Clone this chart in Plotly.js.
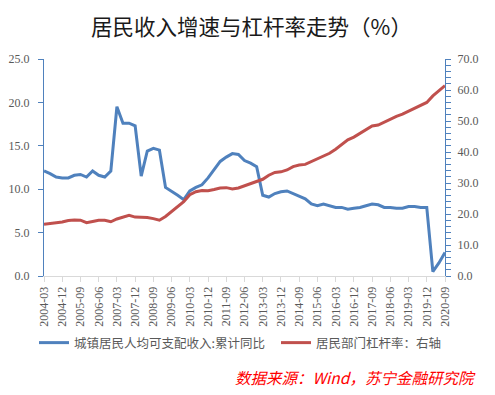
<!DOCTYPE html>
<html>
<head>
<meta charset="utf-8">
<script src="https://cdn.plot.ly/plotly-3.0.1.min.js"></script>
<style>html,body{margin:0;padding:0;background:#fff;}#chart{width:495px;height:395px;}</style>
</head>
<body>
<div id="chart"></div>
<script>
// Quarterly categories 2004-03 .. 2020-09
const quarters = [
 "2004-03","2004-06","2004-09","2004-12","2005-03","2005-06","2005-09","2005-12",
 "2006-03","2006-06","2006-09","2006-12","2007-03","2007-06","2007-09","2007-12",
 "2008-03","2008-06","2008-09","2008-12","2009-03","2009-06","2009-09","2009-12",
 "2010-03","2010-06","2010-09","2010-12","2011-03","2011-06","2011-09","2011-12",
 "2012-03","2012-06","2012-09","2012-12","2013-03","2013-06","2013-09","2013-12",
 "2014-03","2014-06","2014-09","2014-12","2015-03","2015-06","2015-09","2015-12",
 "2016-03","2016-06","2016-09","2016-12","2017-03","2017-06","2017-09","2017-12",
 "2018-03","2018-06","2018-09","2018-12","2019-03","2019-06","2019-09","2019-12",
 "2020-03","2020-06","2020-09"
];
// 城镇居民人均可支配收入:累计同比 (left axis, %)
const incomeGrowth = [
 12.1,11.8,11.4,11.3,11.3,11.6,11.7,11.4,
 12.1,11.6,11.4,12.1,19.5,17.6,17.6,17.3,
 11.5,14.4,14.7,14.5,10.2,9.8,9.3,8.8,
 9.8,10.2,10.5,11.3,12.3,13.2,13.7,14.1,
 14.0,13.3,13.0,12.6,9.3,9.1,9.5,9.7,
 9.8,9.5,9.2,8.9,8.3,8.1,8.3,8.1,
 7.9,7.9,7.7,7.8,7.9,8.1,8.3,8.2,
 7.9,7.9,7.8,7.8,8.0,8.0,7.9,7.9,
 0.5,1.5,2.7
];
// 居民部门杠杆率 (right axis, %)
const householdLeverage = [
 16.7,16.9,17.1,17.4,17.9,18.1,18.0,17.2,
 17.6,18.0,18.0,17.5,18.4,19.1,19.6,19.0,
 19.0,18.9,18.5,18.0,19.2,20.8,22.5,24.0,
 26.2,27.2,27.6,27.5,27.9,28.4,28.5,28.1,
 28.4,29.1,30.0,30.6,31.2,32.5,33.4,33.6,
 34.2,35.3,35.8,36.0,36.9,37.9,38.9,39.6,
 40.9,42.3,43.9,44.8,46.0,47.4,48.4,48.7,
 49.7,50.6,51.5,52.2,53.1,54.2,55.0,56.0,
 58.1,59.8,61.4
];
const seriesNames = ["城镇居民人均可支配收入:累计同比", "居民部门杠杆率：右轴"];
const titleText = "居民收入增速与杠杆率走势（%）";
const sourceText = "数据来源：Wind，苏宁金融研究院";

const tickCats = quarters.filter((q, i) => i % 3 === 0);

const blue = "#4f81bd", red = "#c0504d", gray = "#d9d9d9", txt = "#595959";
const numFont = {family: "Liberation Serif, serif", size: 12, color: txt};
const legFont = {family: "Noto Sans CJK SC, sans-serif", size: 12.5, color: txt};

const data = [
 {x: quarters, y: incomeGrowth, name: seriesNames[0], type: "scatter", mode: "lines",
  line: {color: blue, width: 3}, yaxis: "y", legend: "legend"},
 {x: quarters, y: householdLeverage, name: seriesNames[1], type: "scatter", mode: "lines",
  line: {color: red, width: 3}, yaxis: "y2", legend: "legend2"}
];

const legendBase = {orientation: "h", xref: "container", yref: "container",
   xanchor: "left", y: 1 - 343/395, yanchor: "middle", font: legFont,
   bgcolor: "rgba(0,0,0,0)", borderwidth: 0};

const layout = {
 width: 495, height: 395,
 margin: {l: 44, r: 50, t: 59, b: 119, pad: 0},
 paper_bgcolor: "#fff", plot_bgcolor: "#fff",
 font: {family: "Noto Sans CJK SC, sans-serif", color: txt},
 title: {text: titleText, x: 251.5/495, xref: "container", xanchor: "center",
   y: 1 - 27/395, yref: "container", yanchor: "middle",
   font: {family: "Noto Sans CJK SC, sans-serif", size: 21.5, color: "#1a1a1a"}},
 showlegend: true,
 legend: Object.assign({}, legendBase, {x: 34/495}),
 legend2: Object.assign({}, legendBase, {x: 276/495}),
 xaxis: {type: "category", range: [0, quarters.length - 1],
   tickmode: "array", tickvals: tickCats, ticktext: tickCats,
   tickangle: -90, ticks: "outside", ticklen: 5, tickcolor: gray, tickwidth: 1,
   showline: true, linecolor: gray, linewidth: 1, showgrid: false, zeroline: false,
   tickfont: numFont, fixedrange: true},
 yaxis: {range: [0, 25], dtick: 5, tick0: 0, tickformat: ".1f",
   ticks: "outside", ticklen: 5, tickcolor: blue, tickwidth: 1,
   showline: true, linecolor: blue, linewidth: 1, showgrid: false, zeroline: false,
   tickfont: numFont, ticklabelstandoff: 6},
 yaxis2: {range: [0, 70], dtick: 10, tick0: 0, tickformat: ".1f", overlaying: "y", side: "right",
   ticks: "outside", ticklen: 5, tickcolor: blue, tickwidth: 1,
   minor: {dtick: 2, ticks: "outside", ticklen: 5, tickcolor: blue, tickwidth: 1, showgrid: false},
   showline: true, linecolor: blue, linewidth: 1, showgrid: false, zeroline: false,
   tickfont: numFont, ticklabelstandoff: 4},
 annotations: [
  {text: "<i>" + sourceText + "</i>", xref: "paper", yref: "paper",
   x: (478 - 44) / 401, xanchor: "right", y: (276 - 377) / 217, yanchor: "middle", showarrow: false,
   font: {family: "Noto Sans CJK SC, sans-serif", size: 15.5, color: "#ff0000"}}
 ]
};

Plotly.newPlot("chart", data, layout, {staticPlot: true, displayModeBar: false});
</script>
</body>
</html>
